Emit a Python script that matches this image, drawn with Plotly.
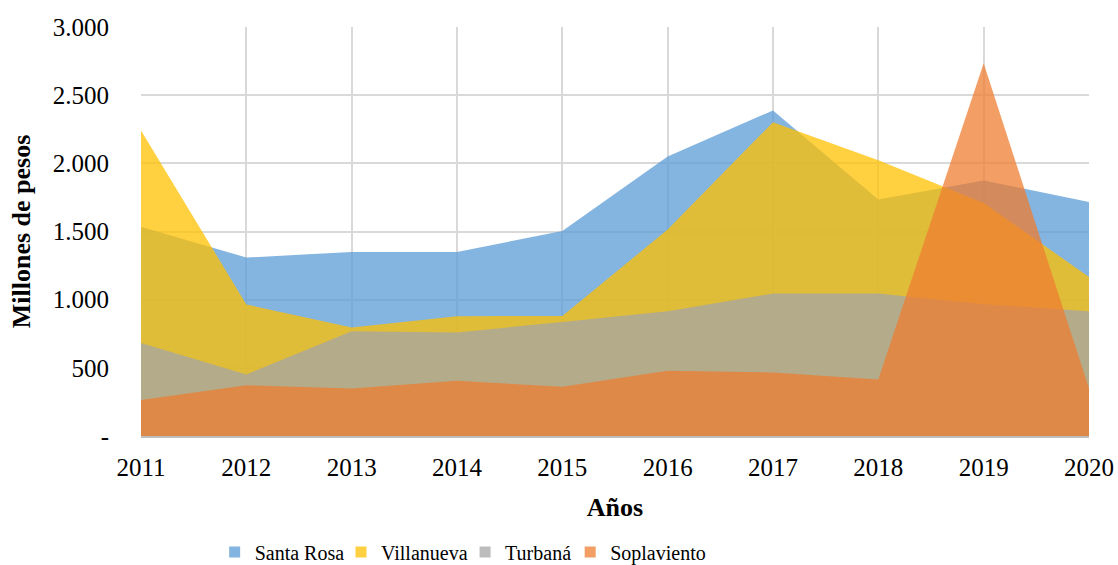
import plotly.graph_objects as go

years = [2011, 2012, 2013, 2014, 2015, 2016, 2017, 2018, 2019, 2020]
santa_rosa = [1535, 1309, 1350, 1350, 1504, 2051, 2388, 1735, 1875, 1716]
villanueva = [2240, 965, 795, 879, 881, 1514, 2302, 2022, 1709, 1167]
turbana = [683, 452, 769, 759, 837, 915, 1045, 1045, 967, 915]
soplaviento = [264, 373, 349, 405, 361, 478, 466, 415, 2735, 349]

series = [
    ("Santa Rosa", santa_rosa, "rgba(91,155,213,0.75)"),
    ("Villanueva", villanueva, "rgba(255,192,0,0.75)"),
    ("Turbaná", turbana, "rgba(165,165,165,0.75)"),
    ("Soplaviento", soplaviento, "rgba(237,125,49,0.75)"),
]

ytick_vals = [0, 500, 1000, 1500, 2000, 2500, 3000]
ytick_text = ["-", "500", "1.000", "1.500", "2.000", "2.500", "3.000"]

# legend entry left positions (fraction of figure width)
legend_x = [0.192, 0.305, 0.416, 0.510]
legend_ids = ["legend", "legend2", "legend3", "legend4"]

fig = go.Figure()
for name, vals, color in series:
    fig.add_trace(go.Scatter(
        x=years, y=vals, name=name, mode="none",
        fill="tozeroy", fillcolor=color, showlegend=False,
        legendgroup=name,
    ))
# legend entries with square swatches
for (name, vals, color), lid in zip(series, legend_ids):
    fig.add_trace(go.Scatter(
        x=[None], y=[None], name=name, mode="markers",
        marker=dict(symbol="square", size=11, color=color, line=dict(width=0)),
        legendgroup=name, showlegend=True, legend=lid,
    ))

font_family = "Liberation Serif, Times New Roman, serif"
legend_common = dict(orientation="h", xanchor="left", xref="container",
                     y=0.023, yanchor="middle", yref="container",
                     font=dict(size=20), itemwidth=30, itemclick=False,
                     bgcolor="rgba(0,0,0,0)")
legends = {}
for lid, lx in zip(legend_ids, legend_x):
    legends[lid] = dict(legend_common, x=lx)

fig.update_layout(
    width=1118, height=565,
    margin=dict(l=141, r=29, t=27, b=129),
    paper_bgcolor="white", plot_bgcolor="white",
    font=dict(family=font_family, size=25, color="black"),
    showlegend=True,
    **legends,
    xaxis=dict(
        range=[2011, 2020], tickmode="array", tickvals=years,
        ticktext=[str(y) for y in years], automargin=False,
        showgrid=True, gridcolor="#d9d9d9", gridwidth=1.5,
        zeroline=False, showline=True, linecolor="#bfbfbf", linewidth=1.5,
        ticks="", ticklabelstandoff=8,
        title=dict(text="<b>Años</b>", font=dict(size=26), standoff=18),
    ),
    yaxis=dict(
        range=[0, 3000], tickmode="array", tickvals=ytick_vals, ticktext=ytick_text,
        automargin=False,
        showgrid=True, gridcolor="#d9d9d9", gridwidth=1.5,
        zeroline=False, showline=False, ticks="", ticklabelstandoff=31,
        title=dict(text="<b>Millones de pesos</b>", font=dict(size=26), standoff=14),
    ),
)

fig.write_html("out.html", config={"displayModeBar": False},
               post_script="document.body.style.margin='0';")
